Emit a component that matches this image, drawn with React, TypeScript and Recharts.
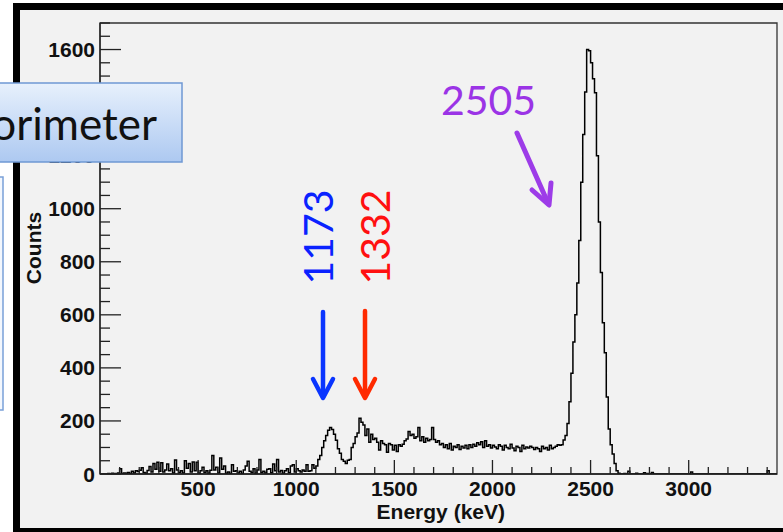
import React from "react";
import { LineChart, Line, XAxis, YAxis, ReferenceArea } from "recharts";

// Histogram bin width (keV) and counts per 10 keV bin
const BIN_WIDTH = 10;

// 0 – 990 keV
const lowEnergyCounts = [
  0, 0, 0, 0, 2, 0, 3, 1, 2, 4,
  20, 2, 4, 3, 6, 2, 10, 4, 12, 9,
  14, 24, 6, 3, 13, 28, 8, 40, 18, 44,
  10, 42, 8, 15, 38, 12, 20, 4, 53, 15,
  6, 12, 4, 50, 22, 40, 8, 45, 12, 44,
  3, 12, 25, 6, 12, 3, 14, 70, 15, 25,
  4, 60, 18, 30, 3, 8, 2, 35, 10, 12,
  4, 10, 2, 15, 30, 48, 10, 6, 20, 3,
  15, 55, 6, 10, 4, 18, 20, 5, 38, 12,
  55, 8, 13, 3, 12, 20, 5, 30, 35, 8,
];

// 1000 – 1890 keV (1173 / 1332 region)
const comptonCounts = [
  20, 12, 8, 15, 10, 35, 10, 12, 35, 22,
  30, 55, 70, 100, 125, 145, 165, 175, 168, 150,
  127, 95, 78, 55, 48, 40, 52, 55, 100, 115,
  140, 155, 210, 195, 185, 145, 170, 120, 150, 130,
  135, 120, 90, 125, 115, 110, 82, 115, 110, 90,
  108, 85, 110, 105, 112, 125, 132, 160, 145, 150,
  135, 140, 175, 125, 140, 120, 135, 125, 130, 175,
  130, 120, 125, 110, 115, 100, 110, 95, 115, 90,
  105, 100, 110, 92, 105, 98, 108, 95, 110, 100,
];

// 1900 – 2340 keV
const plateauCounts = [
  112, 105, 118, 110, 122, 100, 125, 105, 110, 98,
  108, 102, 95, 110, 105, 90, 108, 100, 95, 112,
  98, 88, 105, 100, 85, 108, 95, 102, 98, 105,
  100, 92, 100, 95, 85, 105, 95, 100, 90, 108,
  95, 100, 105, 110, 108,
];

// 2350 – 2690 keV (sum peak 2505)
const peakCounts = [
  110, 128, 145, 190, 272, 380, 498, 600, 720, 880,
  1100, 1280, 1440, 1600, 1595, 1550, 1490, 1437, 1200, 950,
  760, 570, 457, 290, 170, 110, 75, 40, 12, 3,
  0, 0, 2, 0, 10,
];

// 2700 – 3440 keV
const tailCounts = [
  0, 0, 0, 3, 0, 0, 0, 5, 0, 2,
  0, 6, 0, 0, 0, 0, 0, 0, 0, 0,
  0, 0, 0, 0, 0, 0, 0, 0, 0, 0,
  0, 8, 0, 0, 0, 0, 0, 0, 0, 0,
  0, 0, 0, 0, 0, 0, 0, 0, 0, 0,
  0, 0, 0, 0, 0, 0, 0, 0, 0, 0,
  0, 0, 0, 0, 0, 0, 0, 0, 0, 0,
  12, 0, 0, 0, 0,
];

const xMajorLabels = [500, 1000, 1500, 2000, 2500, 3000];
const yMajorLabels = [0, 200, 400, 600, 800, 1000, 1200, 1400, 1600];
const X_MAX = 3450;
const Y_MAX = 1700;
const X_MINOR_STEP = 100;
const Y_MINOR_STEP = 50;

const allCounts = [
  ...lowEnergyCounts,
  ...comptonCounts,
  ...plateauCounts,
  ...peakCounts,
  ...tailCounts,
];
const data = allCounts.map((c, i) => ({ energy: i * BIN_WIDTH, counts: c }));
data.push({
  energy: allCounts.length * BIN_WIDTH,
  counts: allCounts[allCounts.length - 1],
});

const xTicks: number[] = [];
for (let v = X_MINOR_STEP; v < X_MAX; v += X_MINOR_STEP) xTicks.push(v);
const yTicks: number[] = [];
for (let v = 0; v <= Y_MAX; v += Y_MINOR_STEP) yTicks.push(v);

const AXIS_FONT = "'Liberation Sans', Arial, sans-serif";
const NOTE_FONT = "Lato, 'Open Sans', sans-serif";

const XTick = (props: any) => {
  const { x, y, payload } = props;
  const v = payload.value;
  const major = xMajorLabels.includes(v);
  return (
    <g>
      <line x1={x} y1={y} x2={x} y2={y - (major ? 14 : 7)} stroke="#222" strokeWidth={1.3} />
      {major && (
        <text x={x} y={y + 21.5} textAnchor="middle" fontFamily={AXIS_FONT} fontWeight="bold" fontSize={21} fill="#111">
          {v}
        </text>
      )}
    </g>
  );
};

const YTick = (props: any) => {
  const { x, y, payload } = props;
  const v = payload.value;
  const major = yMajorLabels.includes(v);
  return (
    <g>
      <line x1={x} y1={y} x2={x + (major ? 21 : 10)} y2={y} stroke="#222" strokeWidth={1.3} />
      {major && (
        <text x={x - 5} y={y + 7.5} textAnchor="end" fontFamily={AXIS_FONT} fontWeight="bold" fontSize={21} fill="#111">
          {v}
        </text>
      )}
    </g>
  );
};

export default function App() {
  return (
    <div style={{ position: "absolute", left: 0, top: 0, width: 783, height: 532, background: "#fff", overflow: "hidden" }}>
      <div
        style={{
          position: "absolute",
          left: 13,
          top: 3,
          width: 820,
          height: 532,
          boxSizing: "border-box",
          border: "7px solid #000",
          background: "#f2f2f2",
        }}
      />
      <LineChart
        width={783}
        height={532}
        data={data}
        margin={{ top: 23, right: 6, bottom: 28, left: 40 }}
        style={{ position: "absolute", left: 0, top: 0 }}
      >
        <XAxis
          dataKey="energy"
          type="number"
          domain={[0, X_MAX]}
          ticks={xTicks}
          interval={0}
          tickSize={0}
          tickMargin={0}
          tickLine={false}
          tick={<XTick />}
          height={30}
          axisLine={{ stroke: "#222", strokeWidth: 1.3 }}
          allowDataOverflow
        />
        <YAxis
          type="number"
          domain={[0, Y_MAX]}
          ticks={yTicks}
          interval={0}
          tickSize={0}
          tickMargin={0}
          tickLine={false}
          tick={<YTick />}
          width={60}
          axisLine={{ stroke: "#222", strokeWidth: 1.3 }}
          allowDataOverflow
        />
        <ReferenceArea x1={0} x2={X_MAX} y1={0} y2={Y_MAX} fill="none" fillOpacity={0} stroke="#333" strokeWidth={1.3} />
        <Line
          dataKey="counts"
          type="stepAfter"
          stroke="#000"
          strokeWidth={1.5}
          dot={false}
          isAnimationActive={false}
        />
      </LineChart>
      <svg width={783} height={532} style={{ position: "absolute", left: 0, top: 0, pointerEvents: "none" }}>
        <defs>
          <linearGradient id="calloutFill" x1="0" y1="0" x2="0" y2="1">
            <stop offset="0" stopColor="#e7f0fc" />
            <stop offset="1" stopColor="#adc9f1" />
          </linearGradient>
        </defs>
        {/* axis titles */}
        <text transform="translate(41,248) rotate(-90)" textAnchor="middle" fontFamily={AXIS_FONT} fontWeight="bold" fontSize={21} fill="#111">
          Counts
        </text>
        <text x={505} y={519} textAnchor="end" fontFamily={AXIS_FONT} fontWeight="bold" fontSize={21} fill="#111">
          Energy (keV)
        </text>
        {/* slide callouts */}
        <rect x={-20} y={83} width={202} height={79} fill="url(#calloutFill)" stroke="#6f98d3" strokeWidth={1.5} />
        <text x={157} y={140} textAnchor="end" fontFamily={NOTE_FONT} fontSize={44} fill="#111">
          Calorimeter
        </text>
        <rect x={-60} y={177} width={63} height={233} fill="#f3f7fd" stroke="#79a0d8" strokeWidth={1.5} />
        {/* 2505 */}
        <text x={488.5} y={115} textAnchor="middle" fontFamily={NOTE_FONT} fontSize={41} fill="#9b34e6">
          2505
        </text>
        <g stroke="#9d3ce8" strokeWidth={5} strokeLinecap="round" strokeLinejoin="round" fill="none">
          <line x1={517} y1={133} x2={548} y2={203} />
          <polyline points="532,190 549,205 551,183" />
        </g>
        {/* 1173 */}
        <text transform="translate(333,237) rotate(-90)" textAnchor="middle" fontFamily={NOTE_FONT} fontSize={41} fill="#0a22ff">
          1173
        </text>
        <g stroke="#0a35ff" strokeWidth={4.5} strokeLinecap="round" strokeLinejoin="round" fill="none">
          <line x1={323} y1={312} x2={323} y2={397} />
          <polyline points="313,379 323,398 333,379" />
        </g>
        {/* 1332 */}
        <text transform="translate(390,237) rotate(-90)" textAnchor="middle" fontFamily={NOTE_FONT} fontSize={41} fill="#ff1010">
          1332
        </text>
        <g stroke="#ff2a00" strokeWidth={4.5} strokeLinecap="round" strokeLinejoin="round" fill="none">
          <line x1={365} y1={311} x2={365} y2={397} />
          <polyline points="355,379 365,398 375,379" />
        </g>
      </svg>
    </div>
  );
}
